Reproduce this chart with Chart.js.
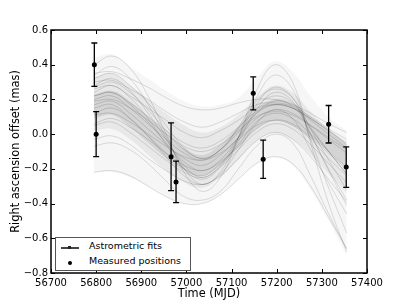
<!DOCTYPE html>
<html>
<head>
<meta charset="utf-8">
<script src="https://cdn.jsdelivr.net/npm/chart.js@4.4.0/dist/chart.umd.min.js"></script>
<style>
  html, body { margin: 0; padding: 0; background: #fff; }
  #wrap { position: relative; width: 407px; height: 305px; }
  #legend {
    position: absolute; left: 55px; top: 237px; width: 134px; height: 32px;
    border: 1px solid #555; background: #fff;
    font: 9.5px "DejaVu Sans", sans-serif; color: #000;
  }
  #legend .row { position: absolute; left: 33px; }
  #legend .ln { position: absolute; left: 5px; top: 9px; width: 18px; height: 1.5px; background: #444; }
  #legend .mk { position: absolute; left: 12px; top: 8px; width: 3px; height: 3px; background: #222; }
  #legend .dot { position: absolute; left: 12px; top: 23px; width: 4px; height: 4px; border-radius: 50%; background: #000; }
</style>
</head>
<body>
<div id="wrap">
  <canvas id="chart" width="407" height="305"></canvas>
  <div id="legend">
    <div class="ln"></div><div class="mk"></div>
    <div class="row" style="top:2px">Astrometric fits</div>
    <div class="dot"></div>
    <div class="row" style="top:17px">Measured positions</div>
  </div>
</div>
<script>
// sample times of the fitted curves (MJD)
const curveT = [56795, 56835, 56875, 56915, 56955, 56995, 57035, 57075, 57115, 57155, 57195, 57235, 57275, 57315, 57355];

// spread of the fit family
const outerTop = [0.44, 0.46, 0.39, 0.32, 0.25, 0.19, 0.16, 0.17, 0.21, 0.32, 0.42, 0.36, 0.22, 0.10, 0.02];
const outerBottom = [-0.22, -0.22, -0.25, -0.30, -0.36, -0.40, -0.40, -0.35, -0.26, -0.17, -0.13, -0.18, -0.32, -0.50, -0.70];
const midTop = [0.33, 0.35, 0.28, 0.20, 0.12, 0.05, 0.01, 0.04, 0.11, 0.21, 0.28, 0.24, 0.13, 0.03, -0.05];
const midBottom = [0.02, 0.03, -0.03, -0.12, -0.21, -0.28, -0.31, -0.25, -0.15, -0.04, 0.01, -0.03, -0.12, -0.23, -0.34];
const coreTop = [0.23, 0.25, 0.19, 0.10, 0.01, -0.08, -0.12, -0.06, 0.04, 0.15, 0.20, 0.18, 0.10, 0.02, -0.06];
const coreBottom = [0.09, 0.11, 0.04, -0.05, -0.14, -0.21, -0.24, -0.18, -0.08, 0.03, 0.08, 0.05, -0.02, -0.10, -0.19];

// individual fits
const fitCurves = [
  [0.40, 0.45, 0.38, 0.22, 0.00, -0.22, -0.33, -0.25, -0.02, 0.25, 0.40, 0.30, -0.05, -0.40, -0.68],
  [0.35, 0.36, 0.32, 0.27, 0.21, 0.16, 0.14, 0.15, 0.18, 0.20, 0.20, 0.17, 0.12, 0.06, 0.01],
  [-0.22, -0.21, -0.24, -0.30, -0.36, -0.40, -0.40, -0.35, -0.26, -0.17, -0.13, -0.17, -0.30, -0.48, -0.66],
  [0.17, 0.19, 0.12, 0.03, -0.06, -0.14, -0.18, -0.12, -0.02, 0.09, 0.14, 0.12, 0.05, -0.03, -0.11],
  [0.28, 0.32, 0.25, 0.12, -0.03, -0.18, -0.25, -0.18, -0.02, 0.17, 0.27, 0.21, 0.00, -0.21, -0.41],
  [0.26, 0.28, 0.22, 0.15, 0.08, 0.01, -0.02, 0.02, 0.08, 0.15, 0.17, 0.15, 0.09, 0.02, -0.05],
  [-0.03, -0.01, -0.06, -0.14, -0.21, -0.27, -0.29, -0.24, -0.14, -0.04, 0.01, -0.03, -0.13, -0.26, -0.39],
  [0.27, 0.30, 0.24, 0.14, 0.02, -0.09, -0.14, -0.09, 0.03, 0.16, 0.22, 0.18, 0.04, -0.10, -0.23],
  [0.12, 0.15, 0.09, -0.01, -0.13, -0.24, -0.29, -0.23, -0.09, 0.06, 0.14, 0.09, -0.09, -0.28, -0.46],
  [0.11, 0.12, 0.07, 0.00, -0.07, -0.13, -0.15, -0.11, -0.03, 0.05, 0.08, 0.05, -0.03, -0.14, -0.24],
  [0.22, 0.24, 0.17, 0.07, -0.05, -0.16, -0.21, -0.15, -0.02, 0.12, 0.19, 0.16, 0.03, -0.10, -0.23],
  [0.34, 0.39, 0.32, 0.17, -0.02, -0.20, -0.29, -0.22, -0.02, 0.21, 0.34, 0.26, -0.03, -0.31, -0.57],
  [-0.07, -0.05, -0.09, -0.17, -0.27, -0.36, -0.38, -0.33, -0.20, -0.07, 0.00, -0.05, -0.24, -0.46, -0.66],
  [0.30, 0.31, 0.26, 0.20, 0.13, 0.07, 0.04, 0.07, 0.12, 0.17, 0.18, 0.16, 0.10, 0.03, -0.03],
  [0.05, 0.07, 0.01, -0.07, -0.15, -0.22, -0.25, -0.19, -0.09, 0.01, 0.06, 0.03, -0.06, -0.17, -0.28],
  [0.32, 0.35, 0.28, 0.18, 0.05, -0.08, -0.14, -0.09, 0.04, 0.19, 0.26, 0.21, 0.03, -0.15, -0.32],
  [0.20, 0.22, 0.15, 0.06, -0.03, -0.11, -0.15, -0.09, 0.01, 0.12, 0.17, 0.15, 0.08, 0.00, -0.08],
  [0.15, 0.17, 0.09, -0.01, -0.11, -0.20, -0.24, -0.17, -0.06, 0.07, 0.12, 0.09, 0.00, -0.10, -0.19],
  [0.22, 0.24, 0.18, 0.10, 0.02, -0.05, -0.08, -0.04, 0.04, 0.13, 0.17, 0.15, 0.09, 0.02, -0.06],
  [0.06, 0.09, 0.04, -0.03, -0.11, -0.18, -0.21, -0.16, -0.07, 0.03, 0.08, 0.06, -0.02, -0.11, -0.20],
  [0.24, 0.28, 0.21, 0.09, -0.06, -0.20, -0.26, -0.19, -0.04, 0.14, 0.24, 0.19, 0.00, -0.20, -0.38],
  [0.19, 0.20, 0.15, 0.08, 0.00, -0.07, -0.10, -0.06, 0.02, 0.10, 0.13, 0.11, 0.05, -0.02, -0.09]
];

// measured positions
const obsT = [56796, 56800, 56966, 56977, 57148, 57170, 57315, 57354];
const obsY = [0.40, 0.00, -0.13, -0.275, 0.235, -0.145, 0.057, -0.19];
const obsErr = [0.125, 0.13, 0.195, 0.12, 0.095, 0.11, 0.108, 0.117];

const xTicks = [56700, 56800, 56900, 57000, 57100, 57200, 57300, 57400];
const yTicks = [-0.8, -0.6, -0.4, -0.2, 0.0, 0.2, 0.4, 0.6];

const toXY = (arr) => curveT.map((t, i) => ({ x: t, y: arr[i] }));

const band = (arr, fill, color) => ({
  data: toXY(arr), borderWidth: 0, pointRadius: 0, tension: 0.4,
  fill: fill, backgroundColor: color
});

const datasets = [
  band(outerTop, false, 'transparent'),
  band(outerBottom, '-1', 'rgba(0,0,0,0.035)'),
  band(midTop, false, 'transparent'),
  band(midBottom, '-1', 'rgba(0,0,0,0.06)'),
  band(coreTop, false, 'transparent'),
  band(coreBottom, '-1', 'rgba(0,0,0,0.09)')
];
fitCurves.forEach((c) => {
  datasets.push({
    data: toXY(c), borderColor: 'rgba(50,50,50,0.2)', borderWidth: 0.8,
    pointRadius: 0, tension: 0.4, fill: false
  });
});
datasets.push({
  data: obsT.map((t, i) => ({ x: t, y: obsY[i] })),
  showLine: false, pointRadius: 2.5, pointBackgroundColor: '#000', pointBorderWidth: 0
});

const frame = {
  id: 'frame',
  afterDatasetsDraw(chart) {
    const { ctx, scales: { x, y } } = chart;
    ctx.save();
    ctx.strokeStyle = '#000';
    ctx.lineWidth = 1.3;
    obsT.forEach((t, i) => {
      const px = x.getPixelForValue(t);
      const top = y.getPixelForValue(obsY[i] + obsErr[i]);
      const bot = y.getPixelForValue(obsY[i] - obsErr[i]);
      ctx.beginPath();
      ctx.moveTo(px, top); ctx.lineTo(px, bot);
      ctx.moveTo(px - 3, top); ctx.lineTo(px + 3, top);
      ctx.moveTo(px - 3, bot); ctx.lineTo(px + 3, bot);
      ctx.stroke();
    });
    ctx.restore();
  },
  afterDraw(chart) {
    const { ctx, chartArea: a, scales: { x, y } } = chart;
    ctx.save();
    ctx.strokeStyle = '#000';
    ctx.lineWidth = 1.5;
    ctx.strokeRect(a.left, a.top, a.right - a.left, a.bottom - a.top);
    ctx.lineWidth = 1;
    ctx.beginPath();
    xTicks.forEach((v) => {
      const px = Math.round(x.getPixelForValue(v)) + 0.5;
      ctx.moveTo(px, a.bottom); ctx.lineTo(px, a.bottom - 4);
      ctx.moveTo(px, a.top); ctx.lineTo(px, a.top + 4);
    });
    yTicks.forEach((v) => {
      const py = Math.round(y.getPixelForValue(v)) + 0.5;
      ctx.moveTo(a.left, py); ctx.lineTo(a.left + 4, py);
      ctx.moveTo(a.right, py); ctx.lineTo(a.right - 4, py);
    });
    ctx.stroke();
    ctx.restore();
  }
};

const tickFont = { family: 'DejaVu Sans', size: 10 };
const titleFont = { family: 'DejaVu Sans', size: 11.4 };

new Chart(document.getElementById('chart'), {
  type: 'line',
  data: { datasets },
  options: {
    responsive: false,
    animation: false,
    layout: { padding: { top: 30, right: 40, left: 0, bottom: 0 } },
    plugins: { legend: { display: false }, tooltip: { enabled: false } },
    scales: {
      x: {
        type: 'linear', min: 56700, max: 57400,
        afterBuildTicks: (s) => { s.ticks = xTicks.map((v) => ({ value: v })); },
        afterFit: (s) => { s.height = 32; },
        grid: { display: false, drawTicks: false },
        border: { display: false },
        ticks: { font: tickFont, color: '#000', padding: 4, maxRotation: 0, autoSkip: false,
                 callback: (v) => String(v) },
        title: { display: true, text: 'Time (MJD)', font: titleFont, color: '#000', padding: { top: 0, bottom: 4 } }
      },
      y: {
        min: -0.8, max: 0.6,
        afterBuildTicks: (s) => { s.ticks = yTicks.map((v) => ({ value: v })); },
        afterFit: (s) => { s.width = 51; },
        grid: { display: false, drawTicks: false },
        border: { display: false },
        ticks: { font: tickFont, color: '#000', padding: 3, autoSkip: false,
                 callback: (v) => v.toFixed(1).replace('-', '\u2212') },
        title: { display: true, text: 'Right ascension offset (mas)', font: titleFont, color: '#000', padding: { top: 9, bottom: 0 } }
      }
    }
  },
  plugins: [frame]
});
</script>
</body>
</html>
